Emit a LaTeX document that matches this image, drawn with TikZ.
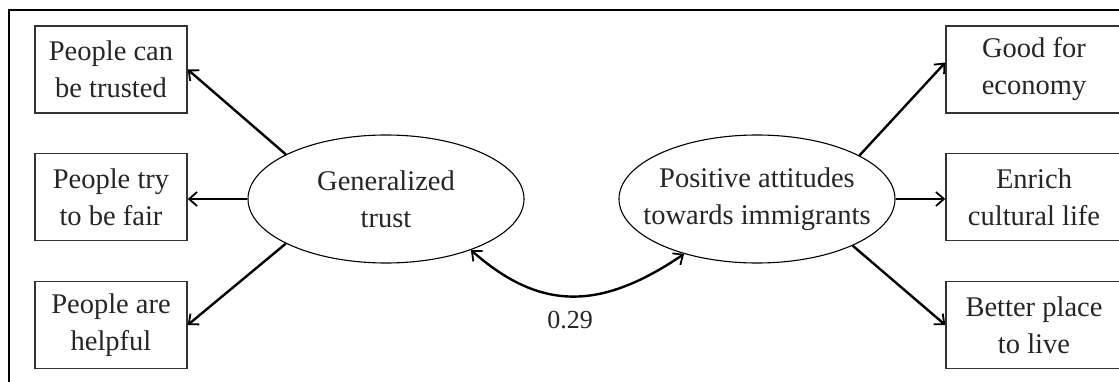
\documentclass[tikz,border=0pt]{standalone}
\usepackage{fontspec}
\setmainfont{Liberation Serif}
\usetikzlibrary{shapes.geometric,arrows.meta}
\begin{document}
\begin{tikzpicture}[x=1pt,y=1pt,
  txt/.style={font=\fontsize{28.5}{37}\selectfont, align=center, text=black!85},
  obs/.style={txt, draw=black!80, line width=1.4pt, inner sep=0pt},
  lat/.style={draw=black, line width=1.1pt, ellipse, minimum width=276pt, minimum height=128pt, inner sep=0pt},
  arr/.style={line width=2.4pt, -{Straight Barb[length=8pt,width=14pt,line width=1.8pt]}},
  darr/.style={line width=2.4pt, {Straight Barb[length=8pt,width=14pt,line width=1.8pt]}-{Straight Barb[length=8pt,width=14pt,line width=1.8pt]}}]
\useasboundingbox (0,0) rectangle (1119,381);
\draw[line width=2.5pt] (9,-5) -- (9,371) -- (1125,371);
% observed boxes left
\node[obs, minimum width=152pt, minimum height=87pt] (l1) at (111,311.5) {People can\\be trusted};
\node[obs, minimum width=152pt, minimum height=87pt] (l2) at (111,184) {People try\\to be fair};
\node[obs, minimum width=152pt, minimum height=87pt] (l3) at (111,56) {People are\\helpful};
% observed boxes right
\node[obs, minimum width=176pt, minimum height=87pt] (r1) at (1034,311.5) {Good for\\economy};
\node[obs, minimum width=176pt, minimum height=87pt] (r2) at (1034,184) {Enrich\\cultural life};
\node[obs, minimum width=176pt, minimum height=87pt] (r3) at (1034,56) {Better place\\to live};
% latent
\node[lat] (g) at (386,182) {};
\node[txt] (gt) at (g.center) {Generalized\\trust};
\node[lat] (p) at (757,182) {};
\node[txt] (pt) at (p.center) {Positive attitudes\\towards immigrants};
% loadings
\draw[arr] (g.156) -- (l1.east);
\draw[arr] (g.west) -- (g.west -| l2.east);
\draw[arr] (g.204) -- (l3.east);
\draw[arr] (p.23) -- ([yshift=7pt]r1.west);
\draw[arr] (p.east) -- (p.east -| r2.west);
\draw[arr] (p.-26) -- (r3.west);
% correlation
\node[txt, font=\fontsize{26}{30}\selectfont] (c) at (570,61) {0.29};
\draw[darr] (g.-31) .. controls (540,70) and (600,70) .. (p.-143);
\end{tikzpicture}
\end{document}
